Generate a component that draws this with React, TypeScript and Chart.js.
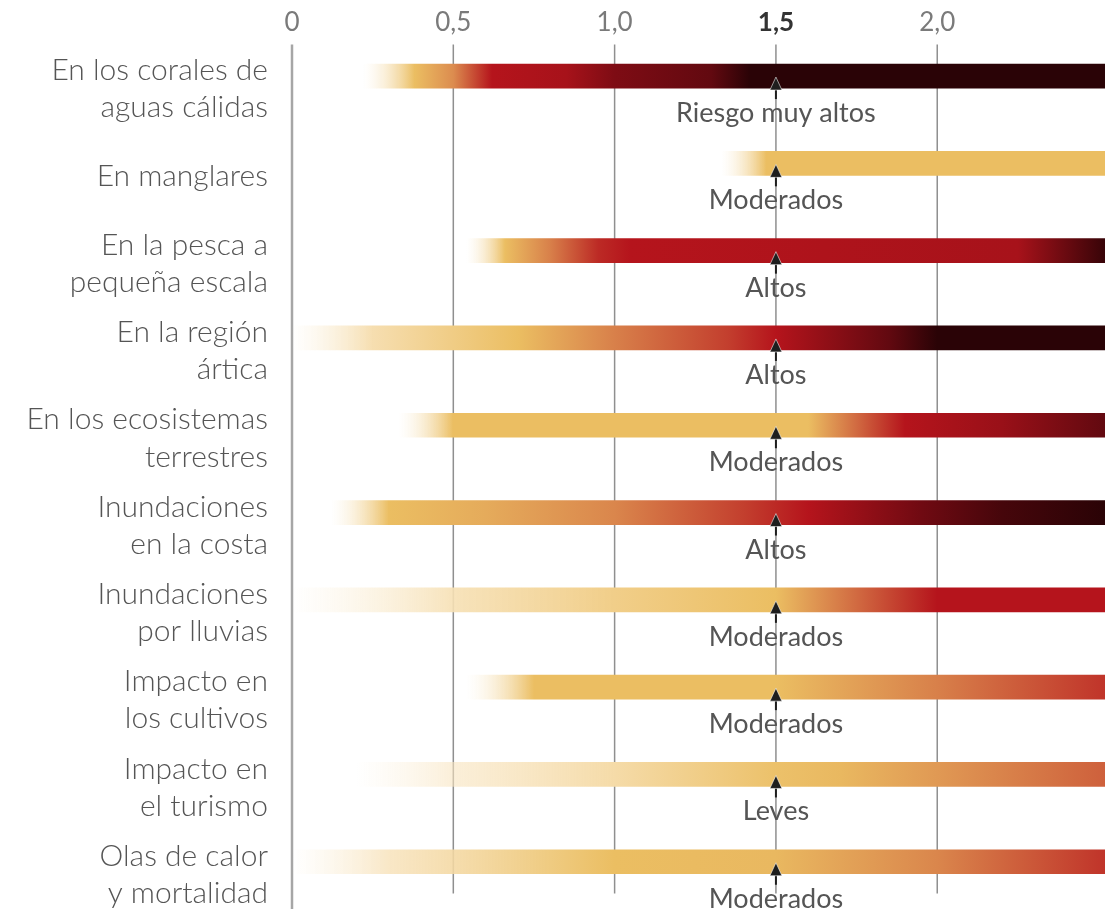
import React, { useEffect, useRef } from 'react';
import { Chart, registerables } from 'chart.js';

Chart.register(...registerables);

// ---------- data ----------
const CATEGORIES: string[][] = [
  ['En los corales de', 'aguas cálidas'],
  ['En manglares'],
  ['En la pesca a', 'pequeña escala'],
  ['En la región', 'ártica'],
  ['En los ecosistemas', 'terrestres'],
  ['Inundaciones', 'en la costa'],
  ['Inundaciones', 'por lluvias'],
  ['Impacto en', 'los cultivos'],
  ['Impacto en', 'el turismo'],
  ['Olas de calor', 'y mortalidad'],
];

const RISK_AT_REFERENCE = [
  'Riesgo muy altos',
  'Moderados',
  'Altos',
  'Altos',
  'Moderados',
  'Altos',
  'Moderados',
  'Moderados',
  'Leves',
  'Moderados',
];

const REFERENCE_WARMING = 1.5;
const X_MIN = 0;
const X_MAX = 2.52;
const TICK_VALUES = [0, 0.5, 1, 1.5, 2];
const TICK_LABELS = ['0', '0,5', '1,0', '1,5', '2,0'];

// Risk transitions per category: [warming, risk level]
// level 0 = undetectable, 1 = moderate, 2 = high, 3 = very high
const riskCorales: [number, number][] = [
  [0.22, 0], [0.38, 1], [0.5, 1.4], [0.62, 2], [0.85, 2.1], [1.0, 2.4], [1.3, 2.6], [1.42, 3], [2.52, 3],
];
const riskManglares: [number, number][] = [
  [1.33, 0], [1.47, 1], [2.52, 1],
];
const riskPesca: [number, number][] = [
  [0.54, 0], [0.66, 1], [0.8, 1.5], [0.95, 1.9], [1.05, 2], [2.25, 2.1], [2.52, 2.9],
];
const riskArtica: [number, number][] = [
  [0.0, 0], [0.25, 0.5], [0.7, 1], [1.0, 1.5], [1.35, 1.8], [1.5, 2], [1.85, 2.6], [2.0, 3], [2.52, 3],
];
const riskTerrestres: [number, number][] = [
  [0.33, 0], [0.5, 1], [1.6, 1], [1.75, 1.6], [1.9, 2], [2.2, 2.2], [2.52, 2.6],
];
const riskCosta: [number, number][] = [
  [0.12, 0], [0.3, 1], [0.6, 1.15], [1.0, 1.45], [1.4, 1.8], [1.6, 2], [1.95, 2.5], [2.2, 2.8], [2.52, 3],
];
const riskLluvias: [number, number][] = [
  [0.0, 0], [0.5, 0.45], [1.0, 0.75], [1.5, 1], [1.75, 1.6], [2.0, 2], [2.52, 2],
];
const riskCultivos: [number, number][] = [
  [0.54, 0], [0.75, 1], [1.5, 1], [2.0, 1.5], [2.52, 1.85],
];
const riskTurismo: [number, number][] = [
  [0.2, 0], [0.5, 0.3], [1.0, 0.55], [1.5, 0.95], [1.7, 1.05], [2.0, 1.3], [2.52, 1.65],
];
const riskOlas: [number, number][] = [
  [0.0, 0], [0.3, 0.4], [0.8, 0.8], [1.0, 1], [1.5, 1.05], [2.0, 1.45], [2.52, 1.85],
];

const RISK_TRANSITIONS = [
  riskCorales, riskManglares, riskPesca, riskArtica, riskTerrestres,
  riskCosta, riskLluvias, riskCultivos, riskTurismo, riskOlas,
];

// ---------- styling ----------
const LEVEL_PALETTE: [number, number[]][] = [
  [0, [250, 238, 214, 0]],
  [0.5, [246, 222, 176, 1]],
  [1, [235, 190, 98, 1]],
  [1.5, [216, 128, 74, 1]],
  [2, [181, 20, 28, 1]],
  [2.5, [112, 10, 18, 1]],
  [3, [42, 3, 6, 1]],
];

function levelColor(level: number): string {
  const p = LEVEL_PALETTE;
  if (level <= p[0][0]) {
    const c = p[0][1];
    return `rgba(${c[0]},${c[1]},${c[2]},${c[3]})`;
  }
  for (let i = 1; i < p.length; i++) {
    if (level <= p[i][0]) {
      const [l0, c0] = p[i - 1];
      const [l1, c1] = p[i];
      const t = (level - l0) / (l1 - l0);
      const c = c0.map((v, k) => v + (c1[k] - v) * t);
      return `rgba(${Math.round(c[0])},${Math.round(c[1])},${Math.round(c[2])},${c[3].toFixed(3)})`;
    }
  }
  const c = p[p.length - 1][1];
  return `rgba(${c[0]},${c[1]},${c[2]},${c[3]})`;
}

const FONT_FAMILY = 'Lato, "Open Sans", sans-serif';

const overlayPlugin = {
  id: 'emberOverlay',
  beforeDatasetsDraw(chart: any) {
    const { ctx, chartArea } = chart;
    const xs = chart.scales.x;
    ctx.save();
    xs.ticks.forEach((t: any, i: number) => {
      const isZero = t.value === 0;
      const isRef = t.value === REFERENCE_WARMING;
      const px = xs.getPixelForValue(t.value);
      ctx.beginPath();
      ctx.moveTo(px, chartArea.top + 12);
      ctx.lineTo(px, isZero ? chart.height : chartArea.bottom - 12);
      ctx.strokeStyle = isZero ? '#a6a6a6' : '#8f8f8f';
      ctx.lineWidth = isZero ? 2.5 : 1.5;
      ctx.stroke();
      // tick label
      ctx.font = `${isRef ? 'bold ' : ''}26px ${FONT_FAMILY}`;
      ctx.fillStyle = isRef ? '#333333' : '#7a7a7a';
      ctx.textAlign = 'center';
      ctx.textBaseline = 'alphabetic';
      ctx.fillText(TICK_LABELS[i] ?? String(t.value), px, 31);
    });
    ctx.restore();
  },
  afterDatasetsDraw(chart: any) {
    const { ctx } = chart;
    const xs = chart.scales.x;
    const ys = chart.scales.y;
    const meta = chart.getDatasetMeta(0);
    ctx.save();
    RISK_AT_REFERENCE.forEach((label, i) => {
      const bar = meta.data[i];
      const cx = xs.getPixelForValue(REFERENCE_WARMING);
      const cy = ys.getPixelForValue(i);
      const half = bar ? bar.height / 2 : 12;
      // stem
      ctx.beginPath();
      ctx.moveTo(cx, cy + half);
      ctx.lineTo(cx, cy + half + 11);
      ctx.strokeStyle = '#1e1e1e';
      ctx.lineWidth = 2;
      ctx.stroke();
      // head
      ctx.beginPath();
      ctx.moveTo(cx, cy + 1);
      ctx.lineTo(cx + 6, cy + half + 2);
      ctx.lineTo(cx - 6, cy + half + 2);
      ctx.closePath();
      ctx.fillStyle = '#1e1e1e';
      ctx.fill();
      ctx.strokeStyle = 'rgba(255,255,255,0.55)';
      ctx.lineWidth = 1;
      ctx.stroke();
      // label
      ctx.font = `27px ${FONT_FAMILY}`;
      ctx.fillStyle = '#555555';
      ctx.textAlign = 'center';
      ctx.textBaseline = 'alphabetic';
      ctx.fillText(label, cx, cy + 46);
    });
    ctx.restore();
  },
};

export default function App() {
  const canvasRef = useRef<HTMLCanvasElement | null>(null);

  useEffect(() => {
    if (!canvasRef.current) return;
    const chart = new Chart(canvasRef.current, {
      type: 'bar',
      data: {
        labels: CATEGORIES,
        datasets: [
          {
            data: RISK_TRANSITIONS.map((r) => [r[0][0], X_MAX]) as any,
            backgroundColor: (ctx: any) => {
              const c = ctx.chart;
              const xs = c.scales.x;
              const stops = RISK_TRANSITIONS[ctx.dataIndex];
              if (!c.chartArea || !xs || !stops) return 'rgba(0,0,0,0)';
              const p0 = xs.getPixelForValue(stops[0][0]);
              const p1 = xs.getPixelForValue(stops[stops.length - 1][0]);
              const g = c.ctx.createLinearGradient(p0, 0, p1, 0);
              stops.forEach(([v, l]) => {
                const t = Math.min(1, Math.max(0, (xs.getPixelForValue(v) - p0) / (p1 - p0)));
                g.addColorStop(t, levelColor(l));
              });
              return g;
            },
            borderWidth: 0,
            borderSkipped: false,
            barThickness: 24,
          },
        ],
      },
      options: {
        indexAxis: 'y',
        animation: false,
        responsive: false,
        maintainAspectRatio: false,
        devicePixelRatio: 1,
        layout: { padding: { top: 32.4, bottom: 3.6, left: 0, right: 2 } },
        plugins: {
          legend: { display: false },
          tooltip: { enabled: false },
        },
        scales: {
          x: {
            type: 'linear',
            position: 'top',
            min: X_MIN,
            max: X_MAX,
            afterBuildTicks: (scale: any) => {
              scale.ticks = TICK_VALUES.map((v) => ({ value: v }));
            },
            afterFit: (scale: any) => {
              scale.height = 0;
              scale.paddingLeft = 0;
              scale.paddingRight = 0;
            },
            grid: { display: false, drawTicks: false },
            border: { display: false },
            ticks: { display: false },
          },
          y: {
            type: 'category',
            grid: { display: false, drawTicks: false },
            border: { display: false },
            afterFit: (scale: any) => {
              scale.width = 292;
              scale.paddingTop = 0;
              scale.paddingBottom = 0;
            },
            ticks: {
              padding: 24,
              labelOffset: 13,
              color: '#555555',
              font: { family: FONT_FAMILY, size: 30, weight: '300', lineHeight: 1.24 },
            },
          },
        },
      },
      plugins: [overlayPlugin],
    } as any);
    return () => chart.destroy();
  }, []);

  return (
    <div style={{ position: 'absolute', left: 0, top: 0, width: 1107, height: 909, background: '#ffffff' }}>
      <canvas ref={canvasRef} width={1107} height={909} style={{ display: 'block' }} />
    </div>
  );
}
